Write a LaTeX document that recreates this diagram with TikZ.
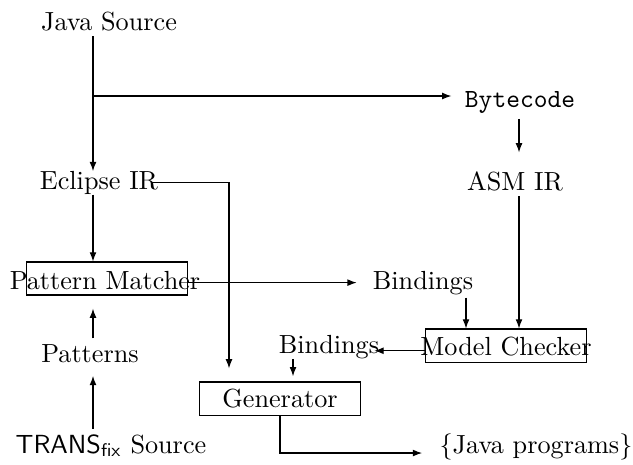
\documentclass[tikz,border=0pt]{standalone}
\usetikzlibrary{arrows.meta}
\begin{document}
\begin{tikzpicture}[x=0.3817pt,y=-0.3817pt,
  lbl/.style={inner sep=2pt, anchor=base},
  arr/.style={-{Latex[length=3.5pt,width=2.6pt]}, line width=0.4pt},
  box/.style={draw, line width=0.4pt, inner sep=0pt, minimum width=61.1pt, minimum height=12.6pt}]
\useasboundingbox (0,0) rectangle (633,464);
% lanes
\coordinate (lane) at (93,0);
\coordinate (asmlane) at (519,0);
\coordinate (genlane) at (229,0);
\coordinate (b1lane) at (466,0);
\coordinate (b2lane) at (293,0);
\coordinate (br) at (93,96);
% boxes
\node[box] (pmbox) at (107,278.5) {};
\node[box] (mcbox) at (506,345.5) {};
\node[box] (genbox) at (280,398.5) {Generator};
% labels
\node[lbl] (js) at (109,30) {Java Source};
\node[lbl] (bc) at (520,107) {\texttt{Bytecode}};
\node[lbl] (eir) at (99,189) {Eclipse IR};
\node[lbl] (asm) at (515,190) {ASM IR};
\node[lbl] (pm) at (105,289) {Pattern Matcher};
\node[lbl] (b1) at (423,289) {Bindings};
\node[lbl] (mc) at (506,355) {Model Checker};
\node[lbl] (b2) at (329,353) {Bindings};
\node[lbl] (pat) at (90,362) {Patterns};
\node[lbl] (ts) at (111,453) {$\mathsf{TRANS}_{\mathsf{fix}}$ Source};
\node[lbl] (jp) at (536,453) {\{Java programs\}};
% connectors
\draw[arr, shorten >=-2.3pt] (js.south -| lane) -- (eir.north -| lane);
\draw[arr, shorten >=3pt] (br) -- (bc.west |- br);
\draw[arr, shorten >=5pt] (bc.south -| asmlane) -- (asm.north -| asmlane);
\draw[arr, shorten <=-5pt, shorten >=5pt] (eir.east) -| (genlane |- genbox.north);
\draw[arr, shorten <=-2pt] (eir.south -| lane) -- (pmbox.north -| lane);
\draw[arr, shorten >=4pt] (pmbox.east |- b1.west) -- (b1.west);
\draw[arr, shorten <=-1pt] (b1.south -| b1lane) -- (mcbox.north -| b1lane);
\draw[arr] (asm.south -| asmlane) -- (mcbox.north -| asmlane);
\draw[arr, shorten >=-4pt] ([yshift=-2pt]mcbox.west) -- ([yshift=-2pt]mcbox.west -| b2.east);
\draw[arr, shorten <=-2pt, shorten >=2pt] (b2.south -| b2lane) -- (genbox.north -| b2lane);
\draw[arr, shorten >=5pt] (pat.north -| lane) -- (pmbox.south -| lane);
\draw[arr, shorten >=3pt] (ts.north -| lane) -- (pat.south -| lane);
\draw[arr, shorten >=4.5pt] (genbox.south) |- (jp.base west);
\end{tikzpicture}
\end{document}
